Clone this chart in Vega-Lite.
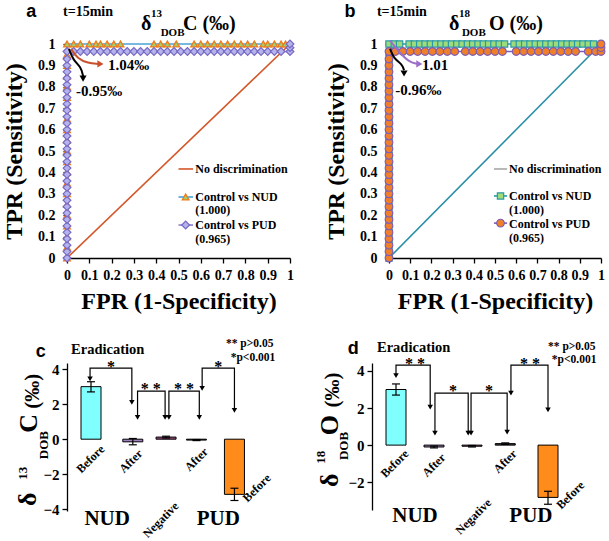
{
"$schema": "https://vega.github.io/schema/vega-lite/v6.json",
"background": "white",
"padding": {"left": 2, "top": 2, "right": 2, "bottom": 2},
"spacing": 25,
"config": {
 "view": {"stroke": null},
 "axis": {"grid": false, "domainColor": "black", "tickColor": "black", "labelColor": "black", "titleColor": "black", "labelFont": "Liberation Serif", "titleFont": "Liberation Serif", "labelFontWeight": "bold", "titleFontWeight": "bold", "labelFontSize": 14, "titleFontSize": 24, "domainWidth": 1.3, "tickWidth": 1.3},
 "text": {"font": "Liberation Serif", "fontWeight": "bold", "color": "black"}
},
"datasets": {
 "aLines": [
  {"g":"diag","i":0,"x":0,"y":0},{"g":"diag","i":1,"x":1,"y":1},
  {"g":"N","i":0,"x":0,"y":0},{"g":"N","i":1,"x":0,"y":1},{"g":"N","i":2,"x":1,"y":1},
  {"g":"P","i":0,"x":0,"y":0},{"g":"P","i":1,"x":0,"y":0.965},{"g":"P","i":2,"x":1,"y":0.965},{"g":"P","i":3,"x":1,"y":1},
  {"g":"lD","i":0,"x":0.5,"y":0.416},{"g":"lD","i":1,"x":0.565,"y":0.416},
  {"g":"lN","i":0,"x":0.5,"y":0.285},{"g":"lN","i":1,"x":0.565,"y":0.285},
  {"g":"lP","i":0,"x":0.5,"y":0.154},{"g":"lP","i":1,"x":0.565,"y":0.154}
 ],
 "aN": [
  {"x":0,"y":0},{"x":0,"y":0.05},{"x":0,"y":0.1},{"x":0,"y":0.15},{"x":0,"y":0.2},{"x":0,"y":0.25},{"x":0,"y":0.3},{"x":0,"y":0.35},{"x":0,"y":0.4},{"x":0,"y":0.45},{"x":0,"y":0.5},{"x":0,"y":0.55},{"x":0,"y":0.6},{"x":0,"y":0.65},{"x":0,"y":0.7},{"x":0,"y":0.75},{"x":0,"y":0.8},{"x":0,"y":0.85},{"x":0,"y":0.9},{"x":0,"y":0.95},
  {"x":0,"y":1},{"x":0.03,"y":1},{"x":0.06,"y":1},{"x":0.1,"y":1},{"x":0.13,"y":1},{"x":0.15,"y":1},{"x":0.18,"y":1},{"x":0.21,"y":1},{"x":0.24,"y":1},{"x":0.39,"y":1},{"x":0.42,"y":1},{"x":0.45,"y":1},{"x":0.49,"y":1},{"x":0.57,"y":1},{"x":0.6,"y":1},{"x":0.63,"y":1},{"x":0.66,"y":1},{"x":0.69,"y":1},{"x":0.72,"y":1},{"x":0.75,"y":1},{"x":0.78,"y":1},{"x":0.81,"y":1},{"x":0.84,"y":1},{"x":0.88,"y":1},{"x":0.9,"y":1},{"x":0.93,"y":1},{"x":0.96,"y":1},{"x":0.98,"y":1},
  {"x":0.532,"y":0.285}
 ],
 "aP": [
  {"x":0,"y":0},{"x":0,"y":0.03},{"x":0,"y":0.06},{"x":0,"y":0.09},{"x":0,"y":0.12},{"x":0,"y":0.15},{"x":0,"y":0.18},{"x":0,"y":0.21},{"x":0,"y":0.24},{"x":0,"y":0.27},{"x":0,"y":0.3},{"x":0,"y":0.33},{"x":0,"y":0.36},{"x":0,"y":0.39},{"x":0,"y":0.42},{"x":0,"y":0.45},{"x":0,"y":0.48},{"x":0,"y":0.51},{"x":0,"y":0.54},{"x":0,"y":0.57},{"x":0,"y":0.6},{"x":0,"y":0.63},{"x":0,"y":0.66},{"x":0,"y":0.69},{"x":0,"y":0.72},{"x":0,"y":0.75},{"x":0,"y":0.78},{"x":0,"y":0.81},{"x":0,"y":0.84},{"x":0,"y":0.87},{"x":0,"y":0.9},{"x":0,"y":0.93},{"x":0,"y":0.965},
  {"x":0.03,"y":0.965},{"x":0.06,"y":0.965},{"x":0.09,"y":0.965},{"x":0.12,"y":0.965},{"x":0.15,"y":0.965},{"x":0.18,"y":0.965},{"x":0.21,"y":0.965},{"x":0.24,"y":0.965},{"x":0.27,"y":0.965},{"x":0.3,"y":0.965},{"x":0.33,"y":0.965},{"x":0.36,"y":0.965},{"x":0.39,"y":0.965},{"x":0.42,"y":0.965},{"x":0.45,"y":0.965},{"x":0.48,"y":0.965},{"x":0.51,"y":0.965},{"x":0.54,"y":0.965},{"x":0.57,"y":0.965},{"x":0.6,"y":0.965},{"x":0.63,"y":0.965},{"x":0.66,"y":0.965},{"x":0.69,"y":0.965},{"x":0.72,"y":0.965},{"x":0.75,"y":0.965},{"x":0.78,"y":0.965},{"x":0.81,"y":0.965},{"x":0.84,"y":0.965},{"x":0.87,"y":0.965},{"x":0.9,"y":0.965},{"x":0.93,"y":0.965},{"x":0.96,"y":0.965},
  {"x":1,"y":0.965},{"x":1,"y":0.983},{"x":1,"y":1},
  {"x":0.532,"y":0.154}
 ],
 "aArr": [
  {"g":"k","i":0,"x":0.009,"y":0.977},{"g":"k","i":1,"x":0.027,"y":0.925},{"g":"k","i":2,"x":0.063,"y":0.893},{"g":"k","i":3,"x":0.072,"y":0.85},
  {"g":"r","i":0,"x":0.018,"y":0.977},{"g":"r","i":1,"x":0.049,"y":0.93},{"g":"r","i":2,"x":0.094,"y":0.911},{"g":"r","i":3,"x":0.139,"y":0.907}
 ],
 "aHead": [{"g":"k","x":0.072,"y":0.838},{"g":"r","x":0.15,"y":0.907}],
 "aTxt": [
  {"k":"letter","t":"a","x":-0.16,"y":1.15},
  {"k":"lab","t":"t=15min","x":-0.018,"y":1.15},
  {"k":"ann","t":"1.04‰","x":0.184,"y":0.9},
  {"k":"ann","t":"-0.95‰","x":0.04,"y":0.78},
  {"k":"leg","t":"No discrimination","x":0.575,"y":0.416},
  {"k":"leg","t":"Control vs NUD","x":0.575,"y":0.287},
  {"k":"leg","t":"(1.000)","x":0.575,"y":0.222},
  {"k":"leg","t":"Control vs PUD","x":0.575,"y":0.156},
  {"k":"leg","t":"(0.965)","x":0.575,"y":0.088},
  {"k":"big","t":"δ","x":0.332,"y":1.093},
  {"k":"big","t":"C (‰)","x":0.52,"y":1.093},
  {"k":"small","t":"13","x":0.377,"y":1.14},
  {"k":"small","t":"DOB","x":0.42,"y":1.052}
 ],
 "bLines": [
  {"g":"diag","i":0,"x":0,"y":0},{"g":"diag","i":1,"x":1,"y":1},
  {"g":"N","i":0,"x":0,"y":0},{"g":"N","i":1,"x":0,"y":1},{"g":"N","i":2,"x":1,"y":1},
  {"g":"P","i":0,"x":0,"y":0},{"g":"P","i":1,"x":0,"y":0.965},{"g":"P","i":2,"x":1,"y":0.965},{"g":"P","i":3,"x":1,"y":1},
  {"g":"lD","i":0,"x":0.495,"y":0.416},{"g":"lD","i":1,"x":0.557,"y":0.416},
  {"g":"lN","i":0,"x":0.495,"y":0.29},{"g":"lN","i":1,"x":0.557,"y":0.29},
  {"g":"lP","i":0,"x":0.495,"y":0.163},{"g":"lP","i":1,"x":0.557,"y":0.163}
 ],
 "bN": [
  {"x":0,"y":0},{"x":0,"y":0.04},{"x":0,"y":0.08},{"x":0,"y":0.12},{"x":0,"y":0.16},{"x":0,"y":0.2},{"x":0,"y":0.24},{"x":0,"y":0.28},{"x":0,"y":0.32},{"x":0,"y":0.36},{"x":0,"y":0.4},{"x":0,"y":0.44},{"x":0,"y":0.48},{"x":0,"y":0.52},{"x":0,"y":0.56},{"x":0,"y":0.6},{"x":0,"y":0.64},{"x":0,"y":0.68},{"x":0,"y":0.72},{"x":0,"y":0.76},{"x":0,"y":0.8},{"x":0,"y":0.84},{"x":0,"y":0.88},{"x":0,"y":0.92},{"x":0,"y":0.96},
  {"x":0,"y":1},{"x":0.025,"y":1},{"x":0.05,"y":1},{"x":0.095,"y":1},{"x":0.12,"y":1},{"x":0.145,"y":1},{"x":0.17,"y":1},{"x":0.195,"y":1},{"x":0.22,"y":1},{"x":0.245,"y":1},{"x":0.27,"y":1},{"x":0.295,"y":1},{"x":0.32,"y":1},{"x":0.345,"y":1},{"x":0.37,"y":1},{"x":0.395,"y":1},{"x":0.42,"y":1},{"x":0.445,"y":1},{"x":0.47,"y":1},{"x":0.495,"y":1},{"x":0.52,"y":1},{"x":0.545,"y":1},{"x":0.59,"y":1},{"x":0.615,"y":1},{"x":0.64,"y":1},{"x":0.665,"y":1},{"x":0.69,"y":1},{"x":0.715,"y":1},{"x":0.74,"y":1},{"x":0.765,"y":1},{"x":0.79,"y":1},{"x":0.815,"y":1},{"x":0.84,"y":1},{"x":0.865,"y":1},{"x":0.89,"y":1},{"x":0.915,"y":1},{"x":0.94,"y":1},{"x":0.965,"y":1},
  {"x":0.526,"y":0.29}
 ],
 "bP": [
  {"x":0,"y":0},{"x":0,"y":0.03},{"x":0,"y":0.06},{"x":0,"y":0.09},{"x":0,"y":0.12},{"x":0,"y":0.15},{"x":0,"y":0.18},{"x":0,"y":0.21},{"x":0,"y":0.24},{"x":0,"y":0.27},{"x":0,"y":0.3},{"x":0,"y":0.33},{"x":0,"y":0.36},{"x":0,"y":0.39},{"x":0,"y":0.42},{"x":0,"y":0.45},{"x":0,"y":0.48},{"x":0,"y":0.51},{"x":0,"y":0.54},{"x":0,"y":0.57},{"x":0,"y":0.6},{"x":0,"y":0.63},{"x":0,"y":0.66},{"x":0,"y":0.69},{"x":0,"y":0.72},{"x":0,"y":0.75},{"x":0,"y":0.78},{"x":0,"y":0.81},{"x":0,"y":0.84},{"x":0,"y":0.87},{"x":0,"y":0.9},{"x":0,"y":0.93},{"x":0,"y":0.965},
  {"x":0.03,"y":0.965},{"x":0.065,"y":0.965},{"x":0.1,"y":0.965},{"x":0.135,"y":0.965},{"x":0.17,"y":0.965},{"x":0.205,"y":0.965},{"x":0.24,"y":0.965},{"x":0.275,"y":0.965},{"x":0.31,"y":0.965},{"x":0.36,"y":0.965},{"x":0.395,"y":0.965},{"x":0.43,"y":0.965},{"x":0.465,"y":0.965},{"x":0.5,"y":0.965},{"x":0.535,"y":0.965},{"x":0.6,"y":0.965},{"x":0.635,"y":0.965},{"x":0.67,"y":0.965},{"x":0.705,"y":0.965},{"x":0.74,"y":0.965},{"x":0.775,"y":0.965},{"x":0.81,"y":0.965},{"x":0.845,"y":0.965},{"x":0.88,"y":0.965},{"x":0.94,"y":0.965},{"x":0.975,"y":0.965},
  {"x":1,"y":0.965},{"x":1,"y":0.983},{"x":1,"y":1},
  {"x":0.526,"y":0.163}
 ],
 "bArr": [
  {"g":"k","i":0,"x":0.005,"y":0.977},{"g":"k","i":1,"x":0.024,"y":0.93},{"g":"k","i":2,"x":0.061,"y":0.907},{"g":"k","i":3,"x":0.071,"y":0.878},
  {"g":"r","i":0,"x":0.005,"y":1.015},{"g":"r","i":1,"x":0.047,"y":0.963},{"g":"r","i":2,"x":0.094,"y":0.916},{"g":"r","i":3,"x":0.132,"y":0.907}
 ],
 "bHead": [{"g":"k","x":0.071,"y":0.862},{"g":"r","x":0.143,"y":0.907}],
 "bTxt": [
  {"k":"letter","t":"b","x":-0.184,"y":1.15},
  {"k":"lab","t":"t=15min","x":-0.057,"y":1.15},
  {"k":"ann","t":"1.01","x":0.156,"y":0.9},
  {"k":"ann","t":"-0.96‰","x":0.03,"y":0.785},
  {"k":"leg","t":"No discrimination","x":0.566,"y":0.416},
  {"k":"leg","t":"Control vs NUD","x":0.566,"y":0.292},
  {"k":"leg","t":"(1.000)","x":0.566,"y":0.226},
  {"k":"leg","t":"Control vs PUD","x":0.566,"y":0.161},
  {"k":"leg","t":"(0.965)","x":0.566,"y":0.093},
  {"k":"big","t":"δ","x":0.283,"y":1.093},
  {"k":"big","t":"O (‰)","x":0.472,"y":1.093},
  {"k":"small","t":"18","x":0.33,"y":1.14},
  {"k":"small","t":"DOB","x":0.344,"y":1.052}
 ],
 "cBars": [
  {"cat":"NUD Before","x":1,"y":3.0},{"cat":"NUD After","x":3.2,"y":-0.15},{"cat":"Negative","x":4.95,"y":0.12},{"cat":"PUD After","x":6.55,"y":-0.05},{"cat":"PUD Before","x":8.55,"y":-3.15}
 ],
 "cErr": [
  {"x":1,"y":2.7,"hi":3.28},{"x":3.2,"y":-0.32,"hi":0.04},{"x":4.95,"y":0.07,"hi":0.17},{"x":6.55,"y":-0.08,"hi":-0.02},{"x":8.55,"y":-3.5,"hi":-2.8}
 ],
 "cCap": [
  {"x":1,"y":2.7},{"x":1,"y":3.28},{"x":3.2,"y":-0.32},{"x":3.2,"y":0.04},{"x":4.95,"y":0.07},{"x":4.95,"y":0.17},{"x":6.55,"y":-0.08},{"x":6.55,"y":-0.02},{"x":8.55,"y":-3.5},{"x":8.55,"y":-2.8}
 ],
 "cBr": [
  {"g":"b1","i":0,"x":0.95,"y":3.5},{"g":"b1","i":1,"x":0.95,"y":4.06},{"g":"b1","i":2,"x":3.15,"y":4.06},{"g":"b1","i":3,"x":3.15,"y":2.15},
  {"g":"b2","i":0,"x":3.45,"y":1.3},{"g":"b2","i":1,"x":3.45,"y":2.74},{"g":"b2","i":2,"x":4.9,"y":2.74},{"g":"b2","i":3,"x":4.9,"y":1.3},
  {"g":"b3","i":0,"x":5.1,"y":1.3},{"g":"b3","i":1,"x":5.1,"y":2.74},{"g":"b3","i":2,"x":6.7,"y":2.74},{"g":"b3","i":3,"x":6.7,"y":1.3},
  {"g":"b4","i":0,"x":6.85,"y":2.95},{"g":"b4","i":1,"x":6.85,"y":4.06},{"g":"b4","i":2,"x":8.55,"y":4.06},{"g":"b4","i":3,"x":8.55,"y":1.7}
 ],
 "cHead": [
  {"x":0.95,"y":3.45},{"x":3.15,"y":2.1},{"x":3.45,"y":1.25},{"x":4.9,"y":1.25},{"x":5.1,"y":1.25},{"x":6.7,"y":1.25},{"x":6.85,"y":2.9},{"x":8.55,"y":1.65}
 ],
 "cTxt": [
  {"k":"letter","t":"c","x":-1.65,"y":4.95},
  {"k":"era","t":"Eradication","x":-0.05,"y":5.1},
  {"k":"note","t":"** p>0.05","x":10.6,"y":5.43},
  {"k":"note","t":"*p<0.001","x":10.7,"y":4.63},
  {"k":"star","t":"*","x":2.05,"y":4.15},
  {"k":"star","t":"* *","x":4.15,"y":2.85},
  {"k":"star","t":"* *","x":5.9,"y":2.85},
  {"k":"star","t":"*","x":7.7,"y":4.15},
  {"k":"cat","t":"Before","x":1.6,"y":-0.45},
  {"k":"cat","t":"After","x":3.6,"y":-0.7},
  {"k":"cat","t":"Negative","x":5.5,"y":-3.7},
  {"k":"cat","t":"After","x":7.05,"y":-0.6},
  {"k":"cat","t":"Before","x":10.35,"y":-2.1},
  {"k":"grp","t":"NUD","x":1.85,"y":-4.57},
  {"k":"grp","t":"PUD","x":7.7,"y":-4.57},
  {"k":"ybig","t":"δ","x":-2.3,"y":-3.43},
  {"k":"ybig","t":"C","x":-2.25,"y":0.91},
  {"k":"yp","t":"(‰)","x":-2.05,"y":2.74},
  {"k":"ysmall","t":"13","x":-2.6,"y":-1.95},
  {"k":"ysmall","t":"DOB","x":-1.5,"y":-0.34}
 ],
 "dBars": [
  {"cat":"NUD Before","x":1,"y":3.0},{"cat":"NUD After","x":3.0,"y":-0.1},{"cat":"Negative","x":5.0,"y":-0.06},{"cat":"PUD After","x":6.75,"y":0.08},{"cat":"PUD Before","x":9.0,"y":-2.82}
 ],
 "dErr": [
  {"x":1,"y":2.7,"hi":3.3},{"x":3.0,"y":-0.15,"hi":-0.05},{"x":5.0,"y":-0.1,"hi":-0.02},{"x":6.75,"y":0.04,"hi":0.12},{"x":9.0,"y":-3.19,"hi":-2.49}
 ],
 "dCap": [
  {"x":1,"y":2.7},{"x":1,"y":3.3},{"x":3.0,"y":-0.15},{"x":3.0,"y":-0.05},{"x":5.0,"y":-0.1},{"x":5.0,"y":-0.02},{"x":6.75,"y":0.04},{"x":6.75,"y":0.12},{"x":9.0,"y":-3.19},{"x":9.0,"y":-2.49}
 ],
 "dBr": [
  {"g":"b1","i":0,"x":1.0,"y":3.8},{"g":"b1","i":1,"x":1.0,"y":4.32},{"g":"b1","i":2,"x":2.8,"y":4.32},{"g":"b1","i":3,"x":2.8,"y":2.1},
  {"g":"b2","i":0,"x":3.05,"y":0.7},{"g":"b2","i":1,"x":3.05,"y":2.81},{"g":"b2","i":2,"x":4.8,"y":2.81},{"g":"b2","i":3,"x":4.8,"y":0.7},
  {"g":"b3","i":0,"x":4.95,"y":0.7},{"g":"b3","i":1,"x":4.95,"y":2.81},{"g":"b3","i":2,"x":6.85,"y":2.81},{"g":"b3","i":3,"x":6.85,"y":0.75},
  {"g":"b4","i":0,"x":7.05,"y":2.85},{"g":"b4","i":1,"x":7.05,"y":4.32},{"g":"b4","i":2,"x":9.0,"y":4.32},{"g":"b4","i":3,"x":9.0,"y":1.95}
 ],
 "dHead": [
  {"x":1.0,"y":3.75},{"x":2.8,"y":2.05},{"x":3.05,"y":0.65},{"x":4.8,"y":0.65},{"x":4.95,"y":0.65},{"x":6.85,"y":0.7},{"x":7.05,"y":2.8},{"x":9.0,"y":1.9}
 ],
 "dTxt": [
  {"k":"letter","t":"d","x":-1.25,"y":5.19},
  {"k":"era","t":"Eradication","x":0,"y":5.25},
  {"k":"note","t":"** p>0.05","x":11.5,"y":5.3},
  {"k":"note","t":"*p<0.001","x":11.55,"y":4.6},
  {"k":"star","t":"* *","x":2.0,"y":4.4},
  {"k":"star","t":"*","x":4.0,"y":2.92},
  {"k":"star","t":"*","x":5.9,"y":2.92},
  {"k":"star","t":"* *","x":8.05,"y":4.4},
  {"k":"cat","t":"Before","x":1.55,"y":-0.35},
  {"k":"cat","t":"After","x":3.5,"y":-0.55},
  {"k":"cat","t":"Negative","x":5.9,"y":-3.0},
  {"k":"cat","t":"After","x":7.25,"y":-0.35},
  {"k":"cat","t":"Before","x":10.8,"y":-2.05},
  {"k":"grp","t":"NUD","x":2.0,"y":-3.84},
  {"k":"grp","t":"PUD","x":8.1,"y":-3.84},
  {"k":"ybig","t":"δ","x":-2.5,"y":-1.9},
  {"k":"ybig","t":"O","x":-2.5,"y":1.08},
  {"k":"yp","t":"(‰)","x":-2.3,"y":2.97},
  {"k":"ysmall","t":"18","x":-2.95,"y":-0.65},
  {"k":"ysmall","t":"DOB","x":-1.75,"y":-0.05}
 ]
},
"vconcat": [
 {"hconcat": [
  {
   "width": 223, "height": 214,
   "encoding": {
    "x": {"field": "x", "type": "quantitative", "scale": {"domain": [0, 1], "nice": false, "zero": false}, "axis": {"values": [0,0.1,0.2,0.3,0.4,0.5,0.6,0.7,0.8,0.9,1], "format": "~g", "title": "FPR (1-Specificity)", "tickSize": 5, "labelPadding": 5, "titlePadding": 7, "labelFlush": false}},
    "y": {"field": "y", "type": "quantitative", "scale": {"domain": [0, 1], "nice": false, "zero": false}, "axis": {"values": [0,0.1,0.2,0.3,0.4,0.5,0.6,0.7,0.8,0.9,1], "format": "~g", "title": "TPR (Sensitivity)", "tickSize": 4, "labelPadding": 8, "titlePadding": 11, "labelFlush": false}}
   },
   "resolve": {"scale": {"color": "independent", "shape": "independent"}},
   "layer": [
    {"data": {"name": "aLines"}, "mark": {"type": "line", "strokeWidth": 1.6},
     "encoding": {"detail": {"field": "g"}, "order": {"field": "i", "type": "quantitative"},
      "color": {"field": "g", "type": "nominal", "legend": null, "scale": {"domain": ["diag","N","P","lD","lN","lP"], "range": ["#d4572a","#4aa3d9","#8a80d0","#d4572a","#4aa3d9","#8a80d0"]}}}},
    {"data": {"name": "aN"}, "mark": {"type": "point", "shape": "triangle-up", "filled": true, "fill": "#9ed36a", "stroke": "#f07c1e", "strokeWidth": 1.3, "size": 45, "opacity": 1}},
    {"data": {"name": "aP"}, "mark": {"type": "point", "shape": "diamond", "filled": true, "fill": "#b4b4ec", "stroke": "#7868c4", "strokeWidth": 1.2, "size": 60, "opacity": 1}},
    {"data": {"name": "aArr"}, "mark": {"type": "line", "interpolate": "basis", "strokeWidth": 2},
     "encoding": {"detail": {"field": "g"}, "order": {"field": "i", "type": "quantitative"},
      "color": {"field": "g", "type": "nominal", "legend": null, "scale": {"domain": ["k","r"], "range": ["black","#c8502a"]}}}},
    {"data": {"name": "aHead"}, "mark": {"type": "point", "filled": true, "size": 50, "opacity": 1},
     "encoding": {"shape": {"field": "g", "type": "nominal", "legend": null, "scale": {"domain": ["k","r"], "range": ["triangle-down","triangle-right"]}},
      "color": {"field": "g", "type": "nominal", "legend": null, "scale": {"domain": ["k","r"], "range": ["black","#c8502a"]}}}},
    {"data": {"name": "aTxt"}, "transform": [{"filter": "datum.k == 'letter'"}], "mark": {"type": "text", "font": "Liberation Sans", "fontSize": 18, "align": "center"}, "encoding": {"text": {"field": "t"}}},
    {"data": {"name": "aTxt"}, "transform": [{"filter": "datum.k == 'lab'"}], "mark": {"type": "text", "fontSize": 14, "align": "left"}, "encoding": {"text": {"field": "t"}}},
    {"data": {"name": "aTxt"}, "transform": [{"filter": "datum.k == 'ann'"}], "mark": {"type": "text", "fontSize": 15, "align": "left"}, "encoding": {"text": {"field": "t"}}},
    {"data": {"name": "aTxt"}, "transform": [{"filter": "datum.k == 'leg'"}], "mark": {"type": "text", "fontSize": 12, "align": "left"}, "encoding": {"text": {"field": "t"}}},
    {"data": {"name": "aTxt"}, "transform": [{"filter": "datum.k == 'big'"}], "mark": {"type": "text", "fontSize": 20, "align": "left"}, "encoding": {"text": {"field": "t"}}},
    {"data": {"name": "aTxt"}, "transform": [{"filter": "datum.k == 'small'"}], "mark": {"type": "text", "fontSize": 11, "align": "left"}, "encoding": {"text": {"field": "t"}}}
   ]
  },
  {
   "width": 212, "height": 214,
   "encoding": {
    "x": {"field": "x", "type": "quantitative", "scale": {"domain": [0, 1], "nice": false, "zero": false}, "axis": {"values": [0,0.1,0.2,0.3,0.4,0.5,0.6,0.7,0.8,0.9,1], "format": "~g", "title": "FPR (1-Specificity)", "tickSize": 5, "labelPadding": 5, "titlePadding": 7, "labelFlush": false}},
    "y": {"field": "y", "type": "quantitative", "scale": {"domain": [0, 1], "nice": false, "zero": false}, "axis": {"values": [0,0.1,0.2,0.3,0.4,0.5,0.6,0.7,0.8,0.9,1], "format": "~g", "title": "TPR (Sensitivity)", "tickSize": 4, "labelPadding": 8, "titlePadding": 11, "labelFlush": false}}
   },
   "resolve": {"scale": {"color": "independent", "shape": "independent"}},
   "layer": [
    {"data": {"name": "bLines"}, "mark": {"type": "line", "strokeWidth": 1.6},
     "encoding": {"detail": {"field": "g"}, "order": {"field": "i", "type": "quantitative"},
      "color": {"field": "g", "type": "nominal", "legend": null, "scale": {"domain": ["diag","N","P","lD","lN","lP"], "range": ["#2a8fa6","#2a9aa8","#7a5cb8","#a8a8a8","#2a9aa8","#7a5cb8"]}}}},
    {"data": {"name": "bN"}, "mark": {"type": "point", "shape": "square", "filled": true, "fill": "#9edc7a", "stroke": "#2a9aa8", "strokeWidth": 1.2, "size": 40, "opacity": 1}},
    {"data": {"name": "bP"}, "mark": {"type": "point", "shape": "circle", "filled": true, "fill": "#f07f2a", "stroke": "#7a5cb8", "strokeWidth": 1.1, "size": 60, "opacity": 1}},
    {"data": {"name": "bArr"}, "mark": {"type": "line", "interpolate": "basis", "strokeWidth": 2},
     "encoding": {"detail": {"field": "g"}, "order": {"field": "i", "type": "quantitative"},
      "color": {"field": "g", "type": "nominal", "legend": null, "scale": {"domain": ["k","r"], "range": ["black","#9b6fc8"]}}}},
    {"data": {"name": "bHead"}, "mark": {"type": "point", "filled": true, "size": 50, "opacity": 1},
     "encoding": {"shape": {"field": "g", "type": "nominal", "legend": null, "scale": {"domain": ["k","r"], "range": ["triangle-down","triangle-right"]}},
      "color": {"field": "g", "type": "nominal", "legend": null, "scale": {"domain": ["k","r"], "range": ["black","#9b6fc8"]}}}},
    {"data": {"name": "bTxt"}, "transform": [{"filter": "datum.k == 'letter'"}], "mark": {"type": "text", "font": "Liberation Sans", "fontSize": 18, "align": "center"}, "encoding": {"text": {"field": "t"}}},
    {"data": {"name": "bTxt"}, "transform": [{"filter": "datum.k == 'lab'"}], "mark": {"type": "text", "fontSize": 14, "align": "left"}, "encoding": {"text": {"field": "t"}}},
    {"data": {"name": "bTxt"}, "transform": [{"filter": "datum.k == 'ann'"}], "mark": {"type": "text", "fontSize": 15, "align": "left"}, "encoding": {"text": {"field": "t"}}},
    {"data": {"name": "bTxt"}, "transform": [{"filter": "datum.k == 'leg'"}], "mark": {"type": "text", "fontSize": 12, "align": "left"}, "encoding": {"text": {"field": "t"}}},
    {"data": {"name": "bTxt"}, "transform": [{"filter": "datum.k == 'big'"}], "mark": {"type": "text", "fontSize": 20, "align": "left"}, "encoding": {"text": {"field": "t"}}},
    {"data": {"name": "bTxt"}, "transform": [{"filter": "datum.k == 'small'"}], "mark": {"type": "text", "fontSize": 11, "align": "left"}, "encoding": {"text": {"field": "t"}}}
   ]
  }
 ], "spacing": 27},
 {"hconcat": [
  {
   "width": 200, "height": 148,
   "encoding": {
    "x": {"field": "x", "type": "quantitative", "scale": {"domain": [0, 10], "nice": false, "zero": false}, "axis": null},
    "y": {"field": "y", "type": "quantitative", "scale": {"domain": [-4.1, 4.35], "nice": false, "zero": false}, "axis": {"values": [-4,-2,0,2,4], "title": null, "labelFontSize": 15, "tickSize": 5, "labelPadding": 3}}
   },
   "layer": [
    {"data": {"name": "cBars"}, "mark": {"type": "bar", "orient": "vertical", "width": 20, "stroke": "black", "strokeWidth": 1},
     "encoding": {"color": {"field": "cat", "type": "nominal", "legend": null, "scale": {"domain": ["NUD Before","NUD After","Negative","PUD After","PUD Before"], "range": ["#80ffff","#a080c0","#a04880","#404040","#ff8c1a"]}}}},
    {"data": {"values": [{}]}, "mark": {"type": "rule", "strokeWidth": 1.3, "color": "black"}, "encoding": {"x": {"datum": 0}, "x2": {"datum": 10}, "y": {"datum": 0}}},
    {"data": {"name": "cErr"}, "mark": {"type": "rule", "strokeWidth": 1.2, "color": "black"}, "encoding": {"y2": {"field": "hi"}}},
    {"data": {"name": "cCap"}, "mark": {"type": "tick", "orient": "horizontal", "size": 8, "thickness": 1.2, "color": "black", "opacity": 1}},
    {"data": {"name": "cBr"}, "mark": {"type": "line", "strokeWidth": 1.2, "color": "black"}, "encoding": {"detail": {"field": "g"}, "order": {"field": "i", "type": "quantitative"}}},
    {"data": {"name": "cHead"}, "mark": {"type": "point", "shape": "triangle-down", "filled": true, "size": 30, "color": "black", "opacity": 1}},
    {"data": {"name": "cTxt"}, "transform": [{"filter": "datum.k == 'letter'"}], "mark": {"type": "text", "font": "Liberation Sans", "fontSize": 18, "align": "center"}, "encoding": {"text": {"field": "t"}}},
    {"data": {"name": "cTxt"}, "transform": [{"filter": "datum.k == 'era'"}], "mark": {"type": "text", "fontSize": 14.5, "align": "left"}, "encoding": {"text": {"field": "t"}}},
    {"data": {"name": "cTxt"}, "transform": [{"filter": "datum.k == 'note'"}], "mark": {"type": "text", "fontSize": 11.5, "align": "right"}, "encoding": {"text": {"field": "t"}}},
    {"data": {"name": "cTxt"}, "transform": [{"filter": "datum.k == 'star'"}], "mark": {"type": "text", "fontSize": 16, "align": "center"}, "encoding": {"text": {"field": "t"}}},
    {"data": {"name": "cTxt"}, "transform": [{"filter": "datum.k == 'cat'"}], "mark": {"type": "text", "fontSize": 12, "align": "right", "angle": 315}, "encoding": {"text": {"field": "t"}}},
    {"data": {"name": "cTxt"}, "transform": [{"filter": "datum.k == 'grp'"}], "mark": {"type": "text", "fontSize": 21, "align": "center"}, "encoding": {"text": {"field": "t"}}},
    {"data": {"name": "cTxt"}, "transform": [{"filter": "datum.k == 'ybig'"}], "mark": {"type": "text", "fontSize": 26, "align": "center", "angle": 270}, "encoding": {"text": {"field": "t"}}},
    {"data": {"name": "cTxt"}, "transform": [{"filter": "datum.k == 'yp'"}], "mark": {"type": "text", "fontSize": 21, "align": "center", "angle": 270}, "encoding": {"text": {"field": "t"}}},
    {"data": {"name": "cTxt"}, "transform": [{"filter": "datum.k == 'ysmall'"}], "mark": {"type": "text", "fontSize": 13, "align": "center", "angle": 270}, "encoding": {"text": {"field": "t"}}}
   ]
  },
  {
   "width": 200, "height": 147,
   "encoding": {
    "x": {"field": "x", "type": "quantitative", "scale": {"domain": [0, 10], "nice": false, "zero": false}, "axis": null},
    "y": {"field": "y", "type": "quantitative", "scale": {"domain": [-3.5, 4.43], "nice": false, "zero": false}, "axis": {"values": [-2,0,2,4], "title": null, "labelFontSize": 15, "tickSize": 5, "labelPadding": 3}}
   },
   "layer": [
    {"data": {"name": "dBars"}, "mark": {"type": "bar", "orient": "vertical", "width": 20, "stroke": "black", "strokeWidth": 1},
     "encoding": {"color": {"field": "cat", "type": "nominal", "legend": null, "scale": {"domain": ["NUD Before","NUD After","Negative","PUD After","PUD Before"], "range": ["#80ffff","#cc3366","#505050","#808040","#ff8c1a"]}}}},
    {"data": {"values": [{}]}, "mark": {"type": "rule", "strokeWidth": 1.3, "color": "black"}, "encoding": {"x": {"datum": 0}, "x2": {"datum": 10}, "y": {"datum": 0}}},
    {"data": {"name": "dErr"}, "mark": {"type": "rule", "strokeWidth": 1.2, "color": "black"}, "encoding": {"y2": {"field": "hi"}}},
    {"data": {"name": "dCap"}, "mark": {"type": "tick", "orient": "horizontal", "size": 8, "thickness": 1.2, "color": "black", "opacity": 1}},
    {"data": {"name": "dBr"}, "mark": {"type": "line", "strokeWidth": 1.2, "color": "black"}, "encoding": {"detail": {"field": "g"}, "order": {"field": "i", "type": "quantitative"}}},
    {"data": {"name": "dHead"}, "mark": {"type": "point", "shape": "triangle-down", "filled": true, "size": 30, "color": "black", "opacity": 1}},
    {"data": {"name": "dTxt"}, "transform": [{"filter": "datum.k == 'letter'"}], "mark": {"type": "text", "font": "Liberation Sans", "fontSize": 18, "align": "center"}, "encoding": {"text": {"field": "t"}}},
    {"data": {"name": "dTxt"}, "transform": [{"filter": "datum.k == 'era'"}], "mark": {"type": "text", "fontSize": 14.5, "align": "left"}, "encoding": {"text": {"field": "t"}}},
    {"data": {"name": "dTxt"}, "transform": [{"filter": "datum.k == 'note'"}], "mark": {"type": "text", "fontSize": 11.5, "align": "right"}, "encoding": {"text": {"field": "t"}}},
    {"data": {"name": "dTxt"}, "transform": [{"filter": "datum.k == 'star'"}], "mark": {"type": "text", "fontSize": 16, "align": "center"}, "encoding": {"text": {"field": "t"}}},
    {"data": {"name": "dTxt"}, "transform": [{"filter": "datum.k == 'cat'"}], "mark": {"type": "text", "fontSize": 12, "align": "right", "angle": 315}, "encoding": {"text": {"field": "t"}}},
    {"data": {"name": "dTxt"}, "transform": [{"filter": "datum.k == 'grp'"}], "mark": {"type": "text", "fontSize": 21, "align": "center"}, "encoding": {"text": {"field": "t"}}},
    {"data": {"name": "dTxt"}, "transform": [{"filter": "datum.k == 'ybig'"}], "mark": {"type": "text", "fontSize": 26, "align": "center", "angle": 270}, "encoding": {"text": {"field": "t"}}},
    {"data": {"name": "dTxt"}, "transform": [{"filter": "datum.k == 'yp'"}], "mark": {"type": "text", "fontSize": 21, "align": "center", "angle": 270}, "encoding": {"text": {"field": "t"}}},
    {"data": {"name": "dTxt"}, "transform": [{"filter": "datum.k == 'ysmall'"}], "mark": {"type": "text", "fontSize": 13, "align": "center", "angle": 270}, "encoding": {"text": {"field": "t"}}}
   ]
  }
 ], "spacing": 38}
]
}
